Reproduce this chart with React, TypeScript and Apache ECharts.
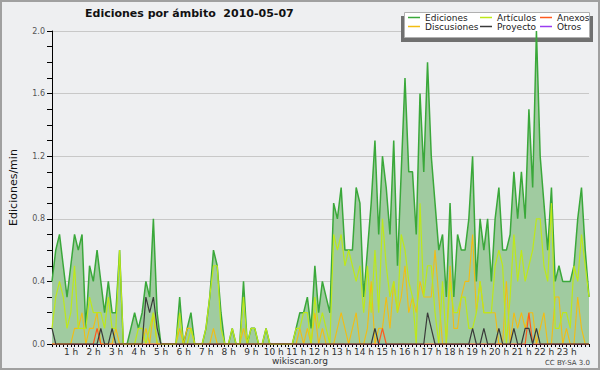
import React, { useEffect, useRef } from 'react';
import * as echarts from 'echarts';

const hourLabels = ['1 h','2 h','3 h','4 h','5 h','6 h','7 h','8 h','9 h','10 h','11 h','12 h','13 h','14 h','15 h','16 h','17 h','18 h','19 h','20 h','21 h','22 h','23 h'];
const yTicks = [0, 0.4, 0.8, 1.2, 1.6, 2.0];

const ediciones = [
  0.4,0.6,0.7,0.5,0.3,0.5,0.7,0.6,0.7,0.1,0.5,0.4,
  0.6,0.4,0.2,0.4,0.2,0.2,0.6,0,0,0.1,0.2,0.1,
  0.2,0.4,0.3,0.8,0.2,0,0,0,0,0,0.3,0,
  0.1,0.2,0,0,0,0.1,0.3,0.6,0.5,0.2,0,0,
  0.1,0,0,0.4,0,0.1,0.1,0,0,0.1,0,0,
  0,0,0,0,0,0.1,0.2,0.2,0.3,0.1,0.5,0.2,
  0.4,0.3,0.2,0.9,0.8,1.0,0.6,0.6,0.6,1.0,0.9,0.3,
  0.6,0.9,1.3,0.7,1.2,1.0,0.7,1.3,0.5,1.1,1.7,1.1,
  1.1,0.7,1.6,1.1,1.8,1.2,0.9,0.6,0.7,0.3,0.9,0.3,
  0.7,0.6,0.6,0.8,1.2,0.4,0.8,0.6,0.8,0.4,0.8,1.0,
  0.6,0.6,0.7,1.1,0.8,1.1,0.8,1.5,1.0,2.0,1.2,0.9,
  0.6,1.0,0.4,0.5,0.4,0.4,0.4,0.5,0.8,1.0,0.6,0.3,
];
const articulos = [
  0.1,0.3,0.4,0.3,0.1,0.2,0.5,0.1,0.1,0.1,0.3,0.2,
  0.2,0.2,0.1,0.3,0.1,0.1,0.6,0,0,0,0,0.1,
  0.1,0,0.1,0.2,0,0,0,0,0,0,0.2,0,
  0,0.1,0,0,0,0.1,0.3,0.5,0.5,0.1,0,0,
  0.1,0,0,0.3,0,0.1,0.1,0,0,0.1,0,0,
  0,0,0,0,0,0.1,0.1,0.2,0.2,0,0.3,0.1,
  0.2,0.1,0,0.7,0.6,0.7,0.5,0.6,0.5,0.4,0.5,0.2,
  0.5,0.2,0.6,0.2,0.8,0.5,0.3,0.4,0.2,0.7,0.6,0.4,
  0.3,0,0.9,0.3,0.5,0.5,0.2,0,0.4,0,0.4,0.2,
  0.2,0.3,0.3,0.1,0.1,0.2,0.4,0.2,0.2,0.2,0.5,0.6,
  0.5,0,0.3,0.7,0.4,0.6,0.4,0.5,0.6,0.8,0.8,0.5,
  0.4,0.9,0.1,0.1,0.2,0.2,0.1,0.5,0.4,0.7,0.5,0.3,
];
const discusiones = [
  0,0,0,0,0,0,0.1,0.1,0.2,0,0.1,0.1,
  0.2,0,0,0,0,0.1,0,0,0,0,0,0,
  0,0.1,0,0.2,0,0,0,0,0,0,0.1,0,
  0.1,0.1,0,0,0,0,0,0.1,0,0,0,0,
  0,0,0,0.1,0,0,0,0,0,0,0,0,
  0,0,0,0,0,0,0.1,0,0.1,0,0.2,0,
  0.1,0,0,0,0.1,0.2,0.1,0,0.1,0.2,0,0,
  0.1,0.4,0,0.1,0.1,0.3,0.1,0.4,0.2,0.3,0.5,0.2,
  0.3,0.2,0.4,0.3,0.3,0.3,0.6,0.3,0,0,0.5,0.1,
  0.1,0.3,0.4,0.4,0.7,0.2,0.4,0.2,0.2,0.2,0.2,0,
  0,0.4,0,0.2,0.1,0.2,0.1,0.2,0.2,0,0.1,0.2,
  0,0,0.3,0.3,0,0.1,0,0,0.3,0.1,0,0,
];
const anexos = [
  0,0,0,0,0,0,0,0,0,0,0,0,
  0.1,0,0,0,0,0,0,0,0,0,0,0,
  0,0,0,0,0,0,0,0,0,0,0,0,
  0,0,0,0,0,0,0,0,0,0,0,0,
  0,0,0,0,0,0,0,0,0,0,0,0,
  0,0,0,0,0,0,0,0,0,0,0,0,
  0,0,0,0,0,0,0,0,0,0,0,0,
  0,0,0,0,0.1,0,0,0,0,0,0,0,
  0,0,0,0,0,0,0,0,0,0,0,0,
  0,0,0,0,0,0,0,0,0,0,0,0,
  0,0,0,0,0,0,0,0.2,0,0,0,0,
  0,0,0,0,0,0,0,0,0,0,0,0,
];
const proyecto = [
  0.1,0,0,0,0,0,0,0,0,0,0,0,
  0,0.1,0,0,0.1,0,0,0,0,0,0,0,
  0,0.3,0.2,0.3,0.1,0,0,0,0,0,0,0,
  0,0,0,0,0,0,0,0,0,0,0,0,
  0,0,0,0,0,0,0,0,0,0,0,0,
  0,0,0,0,0,0,0,0,0,0,0,0,
  0,0,0,0,0,0,0,0,0,0,0,0,
  0,0,0.1,0,0,0,0,0,0,0,0,0,
  0,0,0,0,0.2,0.1,0,0,0,0,0,0,
  0,0,0,0,0.1,0,0,0.1,0,0,0,0.1,
  0,0,0,0.1,0,0,0.1,0.1,0,0.1,0,0,
  0,0,0,0,0,0,0,0,0,0,0,0,
];
const otros = [
  0,0,0,0,0,0,0,0,0,0,0,0,
  0,0,0,0,0,0,0,0,0,0,0,0,
  0,0,0,0,0,0,0,0,0,0,0,0,
  0,0,0,0,0,0,0,0,0,0,0,0,
  0,0,0,0,0,0,0,0,0,0,0,0,
  0,0,0,0,0,0,0,0,0,0,0,0,
  0,0,0,0,0,0,0,0,0,0,0,0,
  0,0,0,0,0,0,0,0,0,0,0,0,
  0,0,0,0,0,0,0,0,0,0,0,0,
  0,0,0,0,0,0,0,0,0,0,0,0,
  0,0,0,0,0,0,0,0,0,0,0,0,
  0,0,0,0,0,0,0,0,0,0,0,0,
];

const FONT = 'DejaVu Sans';

export default function App() {
  const ref = useRef<HTMLDivElement>(null);
  useEffect(() => {
    const chart = echarts.init(ref.current!, null, { renderer: 'svg' });
    const categories = ediciones.map((_, i) => `${Math.floor(i / 6)}:${(i % 6) * 10}`);
    const legendText = { fontFamily: FONT, fontSize: 9, color: '#222' };
    const legendBase = {
      orient: 'vertical', top: 13, itemGap: 0, itemWidth: 12, itemHeight: 1.5,
      icon: 'rect', selectedMode: false, padding: 0, textStyle: legendText, z: 5,
    };
    const mk = (name: string, data: number[], color: string, width: number, z: number) => ({
      name, type: 'line', data, symbol: 'none', color, z,
      lineStyle: { color, width }, emphasis: { disabled: true },
    });
    chart.setOption({
      animation: false,
      backgroundColor: '#eeeff1',
      title: {
        text: 'Ediciones por ámbito  2010-05-07', left: 85, top: 8, padding: 0,
        textStyle: { fontFamily: FONT, fontSize: 11, fontWeight: 'bold', color: '#111' },
      },
      legend: [
        { ...legendBase, left: 408, data: ['Ediciones', 'Discusiones'] },
        { ...legendBase, left: 480, data: ['Artículos', 'Proyecto'] },
        { ...legendBase, left: 540, data: ['Anexos', 'Otros'] },
      ],
      grid: { left: 47, right: 11, top: 31, bottom: 26 },
      xAxis: {
        type: 'category', data: categories, boundaryGap: false,
        axisLine: { lineStyle: { color: '#000', width: 1 } },
        axisTick: { interval: 0, length: 3, lineStyle: { color: '#000' } },
        axisLabel: {
          interval: (i: number) => i > 0 && i % 6 === 0,
          formatter: (_v: string, i: number) => hourLabels[i / 6 - 1] ?? '',
          fontFamily: FONT, fontSize: 9, color: '#333', margin: 3, padding: [0, 7, 0, 0],
        },
        splitLine: { show: false },
      },
      yAxis: {
        type: 'value', min: yTicks[0], max: yTicks[yTicks.length - 1], interval: 0.4,
        name: 'Ediciones/min', nameLocation: 'middle', nameGap: 33,
        nameTextStyle: { fontFamily: FONT, fontSize: 11, color: '#111' },
        axisLine: { show: true, lineStyle: { color: '#000' } },
        axisTick: { show: true, length: 5, lineStyle: { color: '#000' } },
        minorTick: { show: true, splitNumber: 4, length: 5, lineStyle: { color: '#000' } },
        axisLabel: { formatter: (v: number) => v.toFixed(1), fontFamily: FONT, fontSize: 8, color: '#555', margin: 7 },
        splitLine: { lineStyle: { color: '#c8c8c8', width: 1 } },
      },
      series: [
        mk('Otros', otros, '#9a3cf0', 1, 2),
        { ...mk('Ediciones', ediciones, '#3aa83a', 1.5, 3), areaStyle: { color: '#a0cba0', opacity: 1 } },
        mk('Artículos', articulos, '#bde81a', 1.2, 5),
        mk('Discusiones', discusiones, '#f3bd12', 1.1, 4),
        mk('Anexos', anexos, '#ff5a1e', 1.2, 6),
        mk('Proyecto', proyecto, '#3a3a3a', 1.2, 7),
      ],
      graphic: [
        { type: 'rect', z: 1, shape: { x: 401, y: 16, width: 192, height: 26 }, style: { fill: '#707070' } },
        { type: 'rect', z: 1, shape: { x: 404.5, y: 12.5, width: 185, height: 25 }, style: { fill: '#ffffff', stroke: '#b0b0b0', lineWidth: 1 } },
        { type: 'text', z: 10, x: 300, y: 361, style: { text: 'wikiscan.org', textAlign: 'center', textVerticalAlign: 'middle', fontFamily: FONT, fontSize: 9, fill: '#333' } },
        { type: 'text', z: 10, x: 590, y: 363, style: { text: 'CC BY-SA 3.0', textAlign: 'right', textVerticalAlign: 'middle', fontFamily: FONT, fontSize: 7, fill: '#444' } },
        { type: 'rect', z: 100, shape: { x: 1, y: 1, width: 598, height: 368 }, style: { fill: 'none', stroke: '#a0a0a0', lineWidth: 2 } },
      ],
    });
    return () => chart.dispose();
  }, []);
  return <div ref={ref} style={{ position: 'fixed', left: 0, top: 0, width: 600, height: 370 }} />;
}
